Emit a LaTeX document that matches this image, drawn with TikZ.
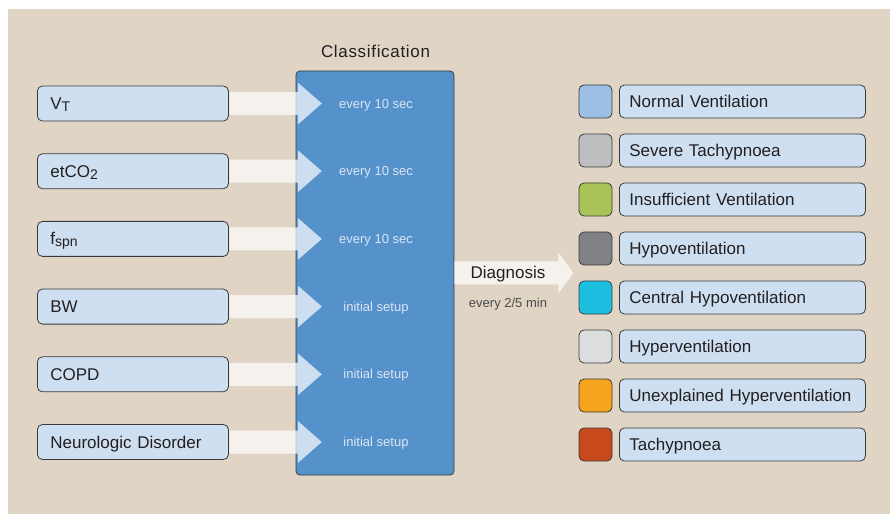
\documentclass[tikz,border=0pt]{standalone}
\usepackage{fontspec}
\setmainfont{Liberation Sans}
\usetikzlibrary{calc}
\definecolor{bgc}{HTML}{E0D5C5}
\definecolor{edge}{HTML}{3A3A3A}
\definecolor{boxfill}{HTML}{CFDFF2}
\definecolor{clsfill}{HTML}{5592CB}
\definecolor{ink}{HTML}{231F20}
\definecolor{ratec}{HTML}{DCE6F4}
\definecolor{graytext}{HTML}{4A4A4A}
\definecolor{cNormal}{HTML}{9DBFE3}
\definecolor{cSevere}{HTML}{BDBEC0}
\definecolor{cInsuff}{HTML}{A9C456}
\definecolor{cHypo}{HTML}{808285}
\definecolor{cCentral}{HTML}{1DBFE0}
\definecolor{cHyper}{HTML}{DCDDDE}
\definecolor{cUnexp}{HTML}{F6A31E}
\definecolor{cTachy}{HTML}{C8491C}
\newcommand\mysub[1]{\raisebox{-2bp}{\fontsize{14bp}{14bp}\selectfont #1}}
\begin{document}
\begin{tikzpicture}[x=1bp,y=-1bp,
  bigfont/.style={font=\fontsize{17bp}{20bp}\selectfont},
  smallfont/.style={font=\fontsize{13bp}{15bp}\selectfont},
  inbox/.style={draw=edge, line width=0.8bp, fill=boxfill, rounded corners=5bp,
    minimum height=35bp, text width=165bp, inner xsep=13bp, inner ysep=0pt,
    text height=12.2bp, text depth=0pt, align=left, anchor=west, bigfont, text=ink},
  lgbox/.style={draw=edge, line width=0.8bp, fill=boxfill, rounded corners=5bp,
    minimum height=33bp, text width=226bp, inner xsep=10bp, inner ysep=0pt,
    text height=12.2bp, text depth=0pt, align=left, anchor=west, bigfont, text=ink},
  swatch/.style={draw=edge, line width=0.8bp, rounded corners=5bp,
    minimum width=33bp, minimum height=33bp, inner sep=0pt},
  clsbox/.style={draw=edge, line width=0.8bp, fill=clsfill, rounded corners=4bp,
    minimum width=158bp, minimum height=404bp, inner sep=0pt},
  ratetext/.style={smallfont, text=ratec, text height=9.3bp, text depth=0pt, inner sep=0pt},
  arr/.style={fill=white, fill opacity=0.7},
]
\useasboundingbox (0,0) rectangle (891,515);
\fill[bgc] (8,9) rectangle (890,514);

% classification box
\node[clsbox] (cls) at (375,273) {};
\node[bigfont, text=ink, inner sep=0pt, text height=12.2bp, text depth=0pt] (clslabel) at (375.5,51)
  {\addfontfeature{LetterSpace=4}Classification};

% inputs
\node[inbox] (in1) at (37,103.5) {V\mysub{T}};
\node[inbox] (in2) at (37,171.2) {etCO\mysub{2}};
\node[inbox] (in3) at (37,238.9) {f\mysub{spn}};
\node[inbox] (in4) at (37,306.6) {BW};
\node[inbox] (in5) at (37,374.3) {COPD};
\node[inbox] (in6) at (37,442) {Neurologic Disorder};

% input arrows
\foreach \i in {1,...,6}{
  \fill[arr] (in\i.east) ++(0.5,-11.5) -- ++(68.5,0) -- ++(0,-9.5) -- ++(24,21)
    -- ++(-24,21) -- ++(0,-9.5) -- ++(-68.5,0) -- cycle;
}

% rates
\node[ratetext] (rate1) at (376,103.5) {every 10 sec};
\node[ratetext] (rate2) at (376,171.2) {every 10 sec};
\node[ratetext] (rate3) at (376,238.9) {every 10 sec};
\node[ratetext] (rate4) at (376,306.6) {initial setup};
\node[ratetext] (rate5) at (376,374.3) {initial setup};
\node[ratetext] (rate6) at (376,442) {initial setup};

% diagnosis arrow
\fill[arr] (cls.east) ++(0,-11.5) -- ++(104,0) -- ++(0,-9) -- ++(15,20.5)
  -- ++(-15,20.5) -- ++(0,-9) -- ++(-104,0) -- cycle;
\node[bigfont, text=ink, inner sep=0pt, text height=12.2bp, text depth=0pt] (diag) at (508,272.8) {Diagnosis};
\node[smallfont, text=graytext, inner sep=0pt, text height=9.3bp, text depth=0pt] (diagrate) at (508,303) {every 2/5 min};

% legend
\foreach \i/\c/\t in {1/cNormal/Normal Ventilation, 2/cSevere/Severe Tachypnoea,
  3/cInsuff/Insufficient Ventilation, 4/cHypo/Hypoventilation,
  5/cCentral/Central Hypoventilation, 6/cHyper/Hyperventilation,
  7/cUnexp/Unexplained Hyperventilation, 8/cTachy/Tachypnoea}{
  \node[swatch, fill=\c] (sw\i) at (595.5,{101.5+49*(\i-1)}) {};
  \node[lgbox] (lg\i) at (619,{101.5+49*(\i-1)}) {\t};
}
\end{tikzpicture}
\end{document}
